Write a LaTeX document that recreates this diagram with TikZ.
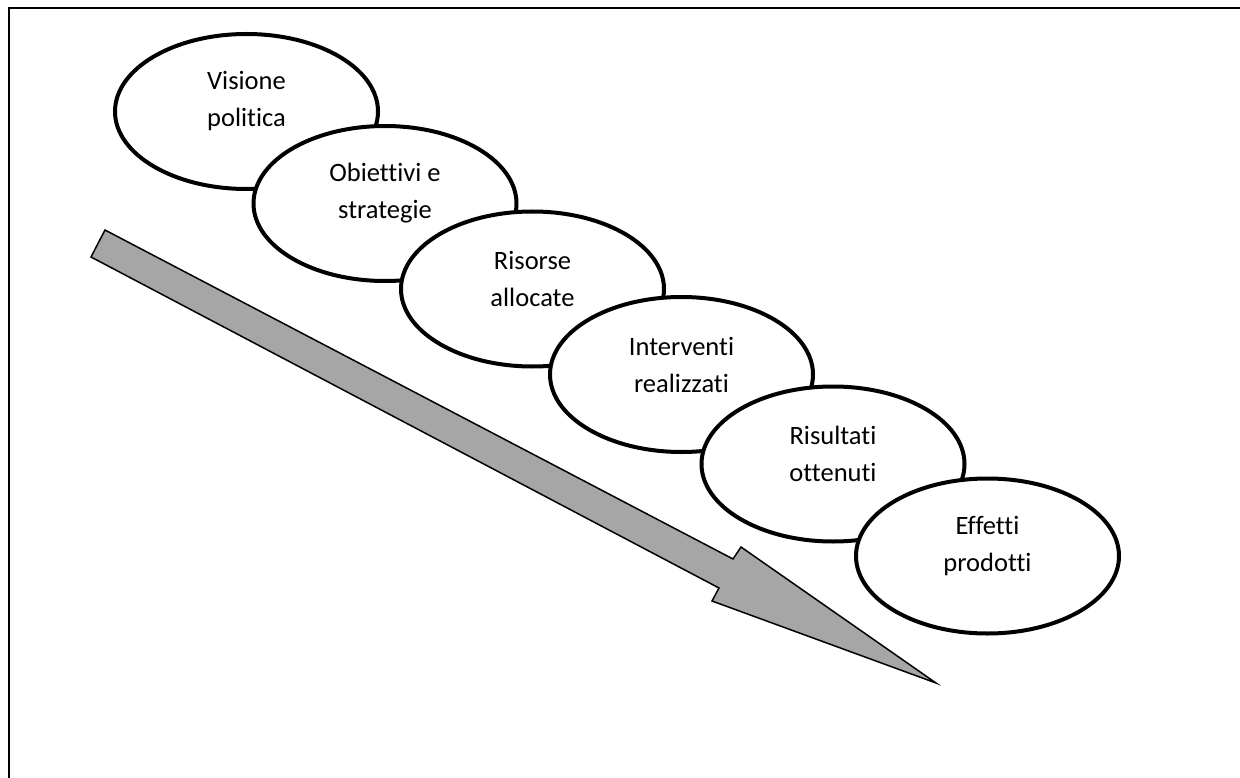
\documentclass[tikz,border=0pt]{standalone}
\usepackage{fontspec}
\setmainfont{Carlito}[Ligatures={NoCommon}]
\usetikzlibrary{shapes.geometric}
\definecolor{arrowgray}{HTML}{A6A6A6}
\tikzstyle{stage} = [ellipse, draw=black, line width=4pt, fill=white, minimum width=263pt, minimum height=155pt, inner sep=0pt]
\tikzstyle{stagetext} = [align=center, inner sep=0pt, font=\fontsize{26.5}{37}\selectfont]
\tikzstyle{flowarrow} = [draw=black, line width=1.5pt, fill=arrowgray, line join=miter]

\begin{document}
\begin{tikzpicture}[x=1pt, y=-1pt]
        \useasboundingbox (0,0) rectangle (1240,778);
        \clip (0,0) rectangle (1240,778);
        \draw [line width=2pt] (8.5,8.5) rectangle (1260,800);

        % big arrow
        \coordinate (tail_top) at (105,230);
        \coordinate (notch_top) at (733,559);
        \coordinate (head_top) at (741,547);
        \coordinate (tip) at (936,683);
        \coordinate (head_bot) at (712,601);
        \coordinate (notch_bot) at (719,588);
        \coordinate (tail_bot) at (91,257);
        \draw [flowarrow] (tail_top) -- (notch_top) -- (head_top) -- (tip) -- (head_bot) -- (notch_bot) -- (tail_bot) -- cycle;

        \node (visione) [stage] at (246.5,111.5) {};
        \node (visione_txt) [stagetext] at ([yshift=10pt]visione.center) {Visione\\politica};
        \node (obiettivi) [stage] at (385,203.5) {};
        \node (obiettivi_txt) [stagetext] at ([yshift=10pt]obiettivi.center) {Obiettivi e\\strategie};
        \node (risorse) [stage] at (532.5,289) {};
        \node (risorse_txt) [stagetext] at ([yshift=10pt]risorse.center) {Risorse\\allocate};
        \node (interventi) [stage] at (681.5,374.5) {};
        \node (interventi_txt) [stagetext] at ([yshift=10pt]interventi.center) {Interventi\\realizzati};
        \node (risultati) [stage] at (833,464) {};
        \node (risultati_txt) [stagetext] at ([yshift=10pt]risultati.center) {Risultati\\ottenuti};
        \node (effetti) [stage] at (987.5,556) {};
        \node (effetti_txt) [stagetext] at ([yshift=10pt]effetti.center) {Effetti\\prodotti};
    \end{tikzpicture}
\end{document}
